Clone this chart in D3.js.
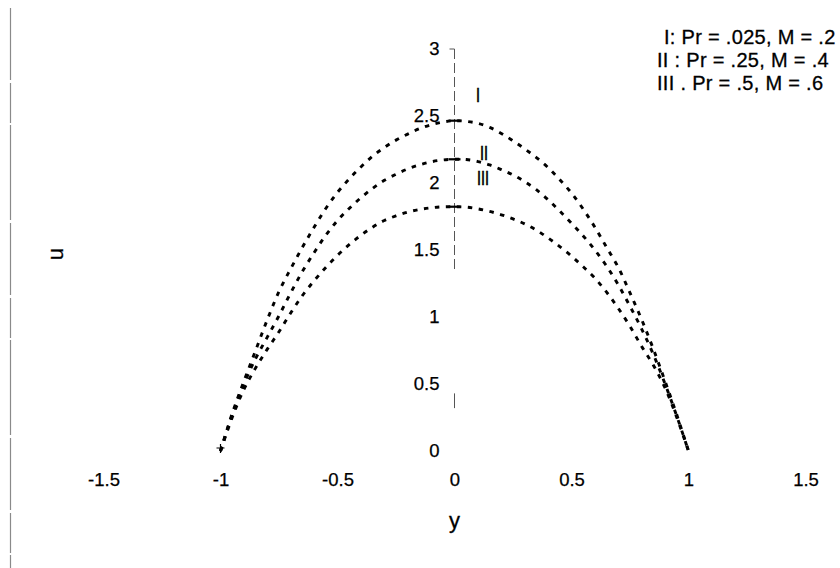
<!DOCTYPE html>
<html>
<head>
<meta charset="utf-8">
<script src="https://cdn.jsdelivr.net/npm/d3@7"></script>
<style>
  html, body { margin: 0; padding: 0; background: #fff; }
  svg { display: block; }
  text { font-family: Arial, "Liberation Sans", sans-serif; fill: #000; }
</style>
</head>
<body>
<svg id="chart" width="840" height="568"></svg>
<script>
// Velocity profiles u(y) across the channel, -1 <= y <= 1
const yGrid = [-1, -0.95, -0.9, -0.85, -0.8, -0.75, -0.7, -0.65, -0.6, -0.55, -0.5,
               -0.45, -0.4, -0.35, -0.3, -0.25, -0.2, -0.15, -0.1, -0.05, 0,
               0.05, 0.1, 0.15, 0.2, 0.25, 0.3, 0.35, 0.4, 0.45, 0.5,
               0.55, 0.6, 0.65, 0.7, 0.75, 0.8, 0.85, 0.9, 0.95, 1];

const uCaseI = [0, 0.28, 0.52, 0.75, 0.98, 1.19, 1.36, 1.52, 1.67, 1.81, 1.93,
                2.03, 2.12, 2.2, 2.265, 2.32, 2.365, 2.405, 2.435, 2.455, 2.465,
                2.46, 2.445, 2.415, 2.37, 2.315, 2.255, 2.19, 2.115, 2.025, 1.925,
                1.805, 1.67, 1.52, 1.37, 1.18, 0.98, 0.76, 0.52, 0.27, 0];

const uCaseII = [0, 0.27, 0.5, 0.69, 0.85, 1.01, 1.18, 1.34, 1.48, 1.61, 1.72,
                 1.81, 1.89, 1.96, 2.02, 2.065, 2.105, 2.135, 2.158, 2.172, 2.177,
                 2.175, 2.16, 2.135, 2.1, 2.06, 2.01, 1.95, 1.875, 1.79, 1.7,
                 1.605, 1.5, 1.38, 1.24, 1.08, 0.91, 0.72, 0.5, 0.26, 0];

const uCaseIII = [0, 0.25, 0.46, 0.62, 0.76, 0.89, 1.03, 1.16, 1.27, 1.37, 1.46,
                  1.54, 1.61, 1.67, 1.72, 1.755, 1.783, 1.802, 1.815, 1.822, 1.823,
                  1.82, 1.807, 1.788, 1.763, 1.732, 1.695, 1.648, 1.59, 1.525, 1.455,
                  1.375, 1.29, 1.185, 1.065, 0.93, 0.78, 0.64, 0.47, 0.25, 0];

const seriesNames = ["I", "II", "III"];
const legendLines = ["I: Pr = .025, M = .2", "II : Pr = .25, M = .4", "III . Pr = .5, M = .6"];

const xTicks = [-1.5, -1, -0.5, 0, 0.5, 1, 1.5];
const xTickLabels = ["-1.5", "-1", "-0.5", "0", "0.5", "1", "1.5"];
const yTicks = [0, 0.5, 1, 1.5, 2, 2.5, 3];
const yTickLabels = ["0", "0.5", "1", "1.5", "2", "2.5", "3"];

const svg = d3.select("#chart");

// frame edge at the far left
svg.append("line")
  .attr("x1", 10.5).attr("x2", 10.5).attr("y1", 8).attr("y2", 568)
  .attr("stroke", "#8a8a8a").attr("stroke-width", 1.2)
  .attr("stroke-dasharray", "72,3,40,2,95,3");

const x = d3.scaleLinear().domain([-1.5, 1.5]).range([103.5, 805.5]);
const y = d3.scaleLinear().domain([0, 3]).range([451, 49]);
const x0 = x(0);

const tickFont = "18.5px";

// x axis: labels only
const xAxis = svg.append("g")
  .attr("transform", "translate(0,470)")
  .call(d3.axisBottom(x).tickValues(xTicks).tickSize(0).tickPadding(3)
    .tickFormat((d, i) => xTickLabels[i]));
xAxis.select(".domain").remove();
xAxis.selectAll("text").style("font-size", tickFont).attr("font-family", null)
  .attr("stroke", "#000").attr("stroke-width", 0.25);

// y axis sits at y = 0
const yAxis = svg.append("g")
  .attr("transform", `translate(${x0},0)`)
  .call(d3.axisLeft(y).tickValues(yTicks).tickSize(0).tickPadding(15)
    .tickFormat((d, i) => yTickLabels[i]));
yAxis.select(".domain").remove();
yAxis.selectAll("text").style("font-size", tickFont).attr("font-family", null)
  .attr("stroke", "#000").attr("stroke-width", 0.25);

svg.append("line")
  .attr("x1", x0).attr("x2", x0).attr("y1", y(3)).attr("y2", y(1.33))
  .attr("stroke", "#555").attr("stroke-width", 1).attr("stroke-dasharray", "10,4");
svg.append("line")
  .attr("x1", x0).attr("x2", x0).attr("y1", y(0.43)).attr("y2", y(0.32))
  .attr("stroke", "#555").attr("stroke-width", 1);
svg.append("line")
  .attr("x1", x0 - 5).attr("x2", x0).attr("y1", y(3)).attr("y2", y(3))
  .attr("stroke", "#555").attr("stroke-width", 1);

// axis titles
svg.append("text")
  .attr("x", x0).attr("y", 522)
  .attr("text-anchor", "middle").attr("dominant-baseline", "middle")
  .style("font-size", "22px").attr("stroke", "#000").attr("stroke-width", 0.3)
  .text("y");
svg.append("text")
  .attr("transform", "translate(57,254) rotate(-90)")
  .attr("text-anchor", "middle").attr("dominant-baseline", "middle")
  .style("font-size", "22px").attr("stroke", "#000").attr("stroke-width", 0.3)
  .text("u");

// profiles
const seriesData = [uCaseI, uCaseII, uCaseIII].map(vals =>
  yGrid.map((v, i) => ({ y: v, u: vals[i] })));

const line = d3.line()
  .x(d => x(d.y))
  .y(d => y(d.u))
  .curve(d3.curveCatmullRom);

svg.append("g").selectAll("path")
  .data(seriesData)
  .join("path")
  .attr("d", line)
  .attr("fill", "none")
  .attr("stroke", "#000")
  .attr("stroke-width", 2.9)
  .attr("stroke-dasharray", "4.5,6.5");

// marks where each profile meets the centre line
svg.append("g").selectAll("line")
  .data(seriesData)
  .join("line")
  .attr("x1", x0 - 6).attr("x2", x0 + 6)
  .attr("y1", d => y(d[20].u)).attr("y2", d => y(d[20].u))
  .attr("stroke", "#000").attr("stroke-width", 2.2);

// start point marker at y = -1
const start = seriesData[0][0];
svg.append("path")
  .attr("d", `M${x(start.y) - 4},${y(start.u) - 3}h8M${x(start.y)},${y(start.u) - 7}v9`)
  .attr("stroke", "#000").attr("stroke-width", 1.2);

// curve labels
const curveLabelPos = [[478, 97], [484, 155], [483, 180]];
svg.append("g").selectAll("text")
  .data(seriesNames)
  .join("text")
  .attr("x", (d, i) => curveLabelPos[i][0])
  .attr("y", (d, i) => curveLabelPos[i][1])
  .attr("text-anchor", "middle").attr("dominant-baseline", "middle")
  .style("font-size", "18px")
  .attr("stroke", "#000").attr("stroke-width", 0.6)
  .attr("transform", (d, i) => `translate(${curveLabelPos[i][0]},${curveLabelPos[i][1]}) scale(0.8,1.1) translate(${-curveLabelPos[i][0]},${-curveLabelPos[i][1]})`)
  .text(d => d);

// parameter legend
const legendPos = [[664, 39], [657, 62], [657, 85]];
svg.append("g").selectAll("text")
  .data(legendLines)
  .join("text")
  .attr("x", (d, i) => legendPos[i][0])
  .attr("y", (d, i) => legendPos[i][1])
  .attr("dominant-baseline", "middle")
  .style("font-size", "20px")
  .style("letter-spacing", "0.3px")
  .attr("stroke", "#000").attr("stroke-width", 0.3)
  .text(d => d);
</script>
</body>
</html>
